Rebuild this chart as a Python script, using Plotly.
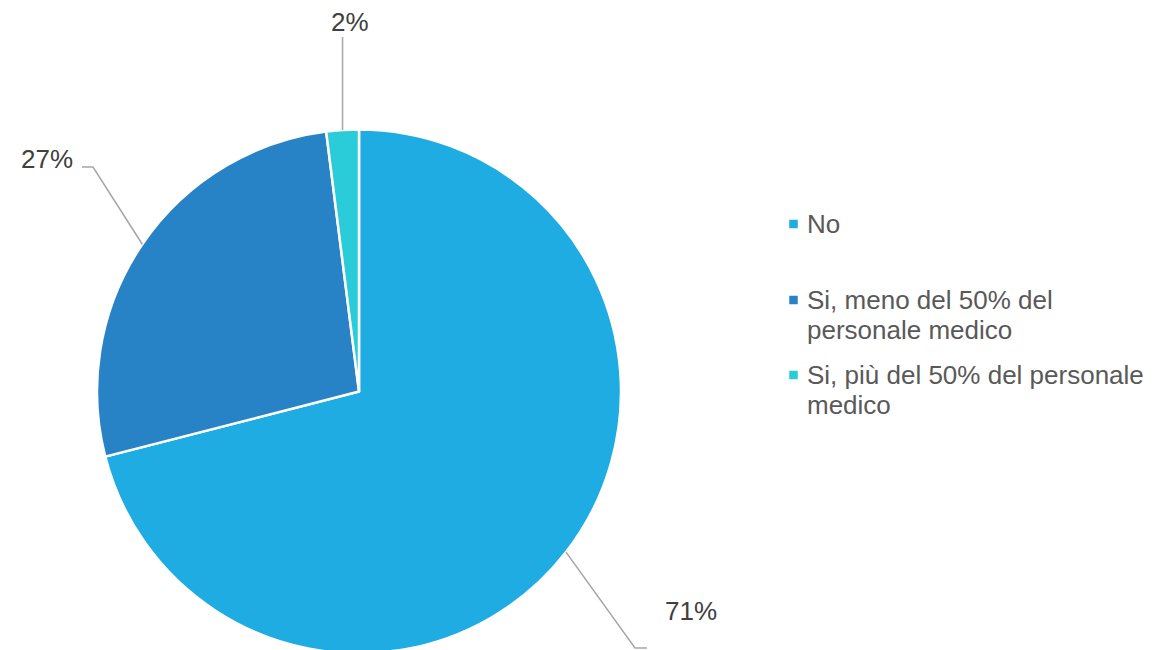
import math
import plotly.graph_objects as go

# ---- data ----
categories = ["No", "Si, meno del 50% del<br>personale medico", "Si, più del 50% del personale<br>medico"]
values = [71, 27, 2]
pct_labels = ["71%", "27%", "2%"]
colors = ["#1EACE2", "#2883C6", "#29CCD8"]

W, H = 1173, 650
OFF = 8  # page body margin in the browser

# pie placement in viewport pixels
CX, TOP, R = 359, 129.5, 262
FONT = "Liberation Sans, Arial, sans-serif"


def px(x):
    return (x - OFF) / W


def py(y):
    return 1 - (y - OFF) / H


# label placement (viewport pixels): elbow point, end of tick, label anchor
label_style = [
    dict(elbow=(635, 648), end=(647, 648), text=(663, 611), xanchor="left"),
    dict(elbow=(93, 167), end=(82, 167), text=(75, 159), xanchor="right"),
    dict(elbow=None, end=(344, 37), text=(350, 22), xanchor="center"),
]
# legend rows (viewport pixels): y of each text line per item
legend_rows = [[224], [300, 330], [375, 405]]
LEG_SQ_X, LEG_TXT_X, SQ = 793.5, 805, 8.5

fig = go.Figure()
fig.add_trace(go.Pie(
    labels=[c.replace("<br>", " ") for c in categories],
    values=values,
    sort=False,
    direction="clockwise",
    rotation=0,
    marker=dict(colors=colors, line=dict(color="white", width=2.5)),
    textinfo="none",
    hoverinfo="label+percent",
    showlegend=False,
    domain=dict(x=[px(CX - R), px(CX + R)], y=[py(TOP + 2 * R), py(TOP)]),
))

CY = TOP + R
total = sum(values)
cum = 0
shapes = []
annotations = []
for v, lab, st in zip(values, pct_labels, label_style):
    mid = (cum + v / 2) / total * 2 * math.pi
    cum += v
    sx = CX + R * math.sin(mid)
    sy = CY - R * math.cos(mid)
    if st["elbow"] is not None:
        pts = [(sx, sy), st["elbow"], st["end"]]
    else:
        pts = [(sx, sy), (sx, st["end"][1])]
    path = "M " + " L ".join(f"{px(x)},{py(y)}" for x, y in pts)
    shapes.append(dict(type="path", path=path, xref="paper", yref="paper",
                       line=dict(color="#A6A6A6", width=1.5)))
    annotations.append(dict(text=lab, x=px(st["text"][0]), y=py(st["text"][1]),
                            xref="paper", yref="paper", xanchor=st["xanchor"],
                            yanchor="middle", showarrow=False,
                            font=dict(size=26, color="#404040", family=FONT)))

# legend drawn from the categories and colours
for cat, col, rows in zip(categories, colors, legend_rows):
    y0 = rows[0]
    shapes.append(dict(type="rect", xref="paper", yref="paper",
                       x0=px(LEG_SQ_X - SQ / 2), x1=px(LEG_SQ_X + SQ / 2),
                       y0=py(y0 - SQ / 2), y1=py(y0 + SQ / 2),
                       fillcolor=col, line=dict(width=0)))
    for line_text, yy in zip(cat.split("<br>"), rows):
        annotations.append(dict(text=line_text, x=px(LEG_TXT_X), y=py(yy),
                                xref="paper", yref="paper", xanchor="left",
                                yanchor="middle", showarrow=False,
                                font=dict(size=26, color="#595959", family=FONT)))

fig.update_layout(
    width=W, height=H,
    margin=dict(l=0, r=0, t=0, b=0),
    paper_bgcolor="white",
    plot_bgcolor="white",
    shapes=shapes,
    annotations=annotations,
    showlegend=False,
)

fig.write_html("out.html")
